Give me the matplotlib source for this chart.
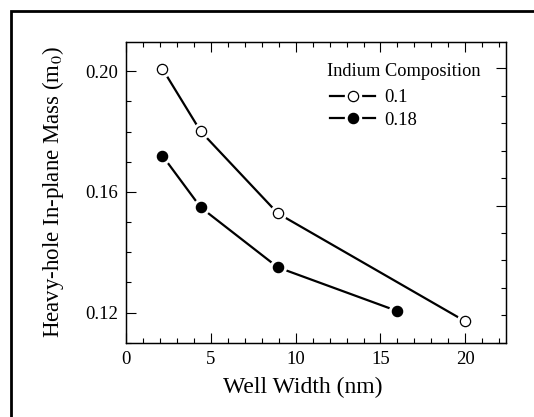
import matplotlib
matplotlib.use("Agg")
import matplotlib.pyplot as plt
from matplotlib.lines import Line2D
from matplotlib.patches import Rectangle
from matplotlib.ticker import MultipleLocator, NullFormatter

plt.rcParams['font.family'] = ['Liberation Serif', 'DejaVu Serif']
plt.rcParams['mathtext.fontset'] = 'stix'

# data
width_01 = [2.15, 4.4, 8.95, 20.0]
mass_01 = [0.2008, 0.1801, 0.1529, 0.1171]
width_018 = [2.15, 4.4, 8.95, 16.0]
mass_018 = [0.172, 0.1549, 0.135, 0.1205]
series_labels = ['0.1', '0.18']
legend_title = 'Indium Composition'

fig = plt.figure(figsize=(5.34, 4.17), dpi=100)
ax = fig.add_axes([0.236, 0.178, 0.7116, 0.7218])

def draw_series(x, y, face):
    ax.plot(x, y, color='black', lw=1.6, zorder=2)
    # white mask leaves a small gap between line and marker
    ax.plot(x, y, ls='none', marker='o', ms=11.5, mfc='white', mec='white', zorder=3)
    ax.plot(x, y, ls='none', marker='o', ms=7.4, mfc=face, mec='black', mew=0.9, zorder=4)

draw_series(width_01, mass_01, 'white')
draw_series(width_018, mass_018, 'black')

ax.set_xlim(0, 22.4)
ax.set_ylim(0.11, 0.2098)
ax.xaxis.set_major_locator(MultipleLocator(5))
ax.xaxis.set_minor_locator(MultipleLocator(1))
ax.yaxis.set_major_locator(MultipleLocator(0.04))
ax.yaxis.set_minor_locator(MultipleLocator(0.01))
ax.yaxis.set_major_formatter(lambda v, p: f'{v:.2f}')
ax.tick_params(which='both', direction='in', top=True, right=False, labelsize=13.5, width=0.8)
ax.tick_params(which='major', length=7, pad=6)
ax.tick_params(which='minor', length=3.6)
for s in ax.spines.values():
    s.set_linewidth(0.9)

# right side has its own tick spacing in the original
ax2 = ax.twinx()
ax2.set_ylim(0, 10.97)
ax2.yaxis.set_major_locator(MultipleLocator(5))
ax2.yaxis.set_minor_locator(MultipleLocator(1))
ax2.yaxis.set_major_formatter(NullFormatter())
ax2.tick_params(which='both', direction='in', width=0.8)
ax2.tick_params(which='major', length=7)
ax2.tick_params(which='minor', length=3.6)
for s in ax2.spines.values():
    s.set_linewidth(0.9)

ax.set_xlabel('Well Width (nm)', fontsize=17)
ax.xaxis.set_label_coords(0.466, -0.113)
ax.set_ylabel('Heavy-hole In-plane Mass (m$_0$)', fontsize=16.5)
ax.yaxis.set_label_coords(-0.157, 0.5)

ax.text(0.529, 0.900, legend_title, transform=ax.transAxes, fontsize=13.2,
        ha='left', va='center', zorder=10)

handles = []
for face in ['white', 'black']:
    ln = Line2D([], [], color='black', lw=1.6)
    mask = Line2D([], [], ls='none', marker='o', ms=11.5, mfc='white', mec='white')
    mk = Line2D([], [], ls='none', marker='o', ms=7.4, mfc=face, mec='black', mew=0.9)
    handles.append((ln, mask, mk))
leg = ax.legend(handles, series_labels, loc='center left',
                bbox_to_anchor=(0.537, 0.777), frameon=False, fontsize=13.5,
                borderpad=0, borderaxespad=0,
                handlelength=2.4, handletextpad=0.5, labelspacing=0.3)
leg.set_zorder(10)

fig.patches.append(Rectangle((0.02, -0.1), 1.1, 1.073, transform=fig.transFigure,
                             fill=False, edgecolor='black', lw=2.0))

fig.savefig('out.png', dpi=100)
